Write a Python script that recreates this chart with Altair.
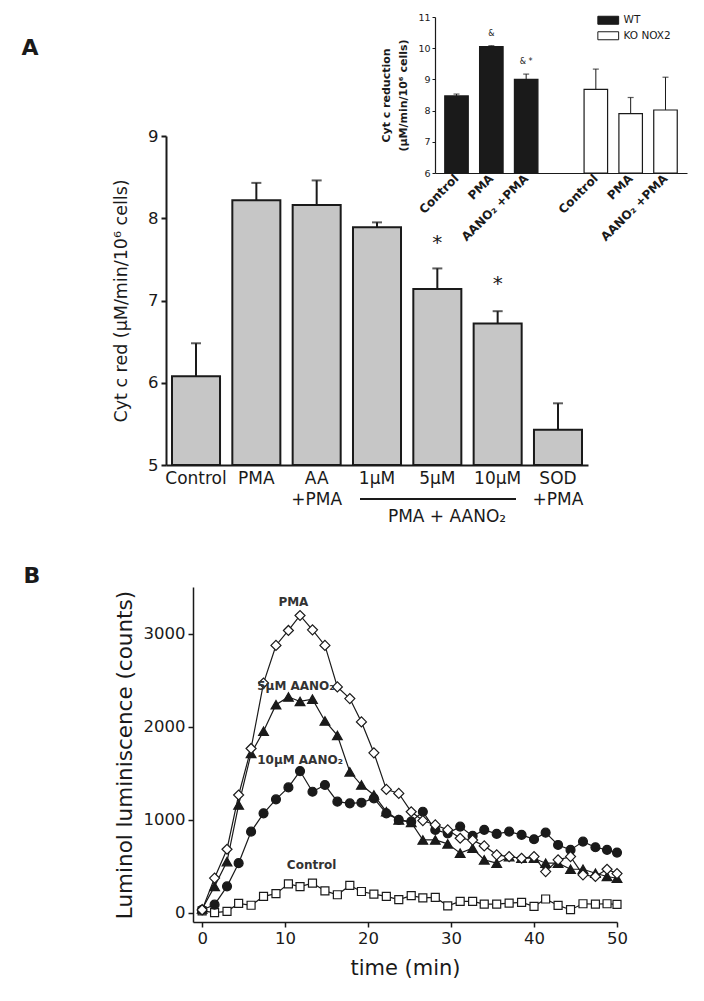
import altair as alt
import pandas as pd

FONT = "DejaVu Sans"
INK = "#1a1a1a"

# ---------------- Panel A: main bar chart ----------------
a_cats = ["Control", "PMA", "AA\n+PMA", "1µM", "5µM", "10µM", "SOD\n+PMA"]
a_mean = [6.08, 8.22, 8.16, 7.89, 7.14, 6.72, 5.43]
a_upper = [6.48, 8.43, 8.46, 7.95, 7.39, 6.87, 5.75]
a_star_cats = ["5µM", "10µM"]
a_star_y = [7.76, 7.26]

# ---------------- Panel A: inset ----------------
in_domain = ["WT|Control", "WT|PMA", "WT|AANO₂ +PMA", "|",
             "KO|Control", "KO|PMA", "KO|AANO₂ +PMA"]
in_keys = ["WT|Control", "WT|PMA", "WT|AANO₂ +PMA",
           "KO|Control", "KO|PMA", "KO|AANO₂ +PMA"]
in_geno = ["WT", "WT", "WT", "KO NOX2", "KO NOX2", "KO NOX2"]
in_mean = [8.47, 10.05, 9.00, 8.68, 7.90, 8.02]
in_upper = [8.53, 10.08, 9.17, 9.33, 8.42, 9.07]
in_note_keys = ["WT|PMA", "WT|AANO₂ +PMA"]
in_note_text = ["&", "& *"]
in_note_y = [10.45, 9.55]

# ---------------- Panel B: luminol time course ----------------
times = [0, 1.5, 3.0, 4.4, 5.9, 7.4, 8.9, 10.4, 11.8, 13.3, 14.8, 16.3, 17.8,
         19.2, 20.7, 22.2, 23.7, 25.2, 26.6, 28.1, 29.6, 31.1, 32.6, 34.0,
         35.5, 37.0, 38.5, 40.0, 41.4, 42.9, 44.4, 45.9, 47.4, 48.8, 50.0]
pma = [30, 372, 682, 1265, 1765, 2468, 2872, 3033, 3194, 3040, 2872, 2426, 2301,
       2050, 1718, 1325, 1282, 1085, 990, 943, 890, 800, 780, 718,
       622, 603, 585, 603, 442, 568, 603, 407, 389, 467, 420]
aano5 = [40, 283, 549, 1158, 1711, 1950, 2235, 2318, 2270, 2295, 2060, 1905, 1514,
         1372, 1265, 1085, 997, 970, 782, 782, 740, 640, 692, 568,
         532, 603, 585, 585, 532, 532, 467, 467, 424, 389, 370]
aano10 = [30, 86, 283, 532, 871, 1068, 1218, 1346, 1522, 1300, 1372, 1193, 1175,
          1182, 1229, 1068, 997, 978, 1085, 890, 853, 925, 825, 890,
          847, 871, 836, 789, 860, 728, 675, 764, 703, 675, 646]
control = [20, 0, 15, 100, 80, 175, 205, 310, 280, 318, 235, 193, 293,
           228, 200, 175, 140, 183, 160, 164, 74, 121, 121, 92,
           92, 103, 110, 68, 147, 78, 32, 96, 92, 96, 90]
b_series = ["PMA", "5µM AANO₂", "10µM AANO₂", "Control"]
b_label_t = [11.0, 11.3, 11.8, 13.2]
b_label_v = [3340, 2433, 1640, 514]

# ---------------- data frames ----------------
dfA = pd.DataFrame({"cat": a_cats, "val": a_mean, "upper": a_upper})
dfStar = pd.DataFrame({"cat": a_star_cats, "val": a_star_y})
dfIn = pd.DataFrame({"key": in_keys, "geno": in_geno, "m": in_mean, "up": in_upper})
dfNote = pd.DataFrame({"key": in_note_keys, "m": in_note_y, "txt": in_note_text})
series_vals = {"PMA": pma, "5µM AANO₂": aano5, "10µM AANO₂": aano10, "Control": control}
dfB = pd.DataFrame([
    {"series": s, "t": t, "v": v}
    for s in b_series for t, v in zip(times, series_vals[s])
])
dfBL = pd.DataFrame({"label": b_series, "t": b_label_t, "v": b_label_v})
one = pd.DataFrame({"a": [0]})

# plot origin is at page (166, 12)
W, H = 524, 910


def xA(field="cat"):
    return alt.X(f"{field}:N",
                 scale=alt.Scale(domain=a_cats, range=[0, 422],
                                 paddingInner=0.204, paddingOuter=0.0995),
                 axis=alt.Axis(orient="bottom", offset=-457, title=None, ticks=False,
                               labelAngle=0, labelExpr="split(datum.label, '\\n')",
                               labelFontSize=17, labelLineHeight=21, labelPadding=5,
                               domainWidth=2))


def yA(field):
    return alt.Y(f"{field}:Q",
                 scale=alt.Scale(domain=[5, 9], range=[453, 124], nice=False, zero=False),
                 axis=alt.Axis(orient="left", offset=0, values=[5, 6, 7, 8, 9],
                               title="Cyt c red (µM/min/10⁶ cells)", titleFontSize=17.5,
                               titleFontWeight="normal", titlePadding=17,
                               labelFontSize=16.5, labelPadding=3, tickSize=5,
                               tickWidth=2, domainWidth=2, minExtent=0))


barsA = alt.Chart(dfA).mark_bar(fill="#c6c6c6", stroke=INK, strokeWidth=2).encode(
    x=xA(), y=yA("val"), y2=alt.datum(5))
errA = alt.Chart(dfA).mark_rule(color=INK, strokeWidth=2).encode(
    x=xA(), y=yA("val"), y2="upper:Q")
capA = alt.Chart(dfA).mark_tick(color=INK, thickness=2, size=10, orient="horizontal").encode(
    x=xA(), y=yA("upper"))
starA = alt.Chart(dfStar).mark_text(text="*", fontSize=20, baseline="alphabetic", dy=11,
                                    color=INK).encode(x=xA(), y=yA("val"))
groupLine = alt.Chart(one).mark_rule(color=INK, strokeWidth=2).encode(
    x=alt.value(194), x2=alt.value(350), y=alt.value(487))
groupText = alt.Chart(one).mark_text(text="PMA + AANO₂", fontSize=17, color=INK,
                                     baseline="middle").encode(
    x=alt.value(281), y=alt.value(505))
mainA = alt.layer(barsA, errA, capA, starA, groupLine, groupText)


def xI(field="key"):
    return alt.X(f"{field}:N",
                 scale=alt.Scale(domain=in_domain, range=[269, 521],
                                 paddingInner=0.325, paddingOuter=0.28),
                 axis=alt.Axis(orient="bottom", offset=-749, title=None, ticks=False,
                               labelExpr="split(datum.label, '|')[1]", labelAngle=315,
                               labelAlign="right", labelBaseline="middle",
                               labelFontSize=12, labelFontWeight="bold", labelPadding=3,
                               domainWidth=1.2))


def yI(field):
    return alt.Y(f"{field}:Q",
                 scale=alt.Scale(domain=[6, 11], range=[161, 5], nice=False, zero=False),
                 axis=alt.Axis(orient="left", offset=-269, values=[6, 7, 8, 9, 10, 11],
                               title=["Cyt c reduction", "(µM/min/10⁶ cells)"],
                               titleFontSize=11, titleFontWeight="bold", titleLineHeight=17,
                               titlePadding=9, labelFontSize=9.5, labelPadding=2,
                               tickSize=3, domainWidth=1.2, minExtent=0))


barsI = alt.Chart(dfIn).mark_bar(stroke=INK, strokeWidth=1.2).encode(
    x=xI(), y=yI("m"), y2=alt.datum(6),
    fill=alt.Fill("geno:N",
                  scale=alt.Scale(domain=["WT", "KO NOX2"], range=[INK, "white"]),
                  legend=alt.Legend(orient="none", legendX=437, legendY=3, title=None,
                                    symbolType="M-2.6,-1L2.6,-1L2.6,1L-2.6,1Z",
                                    symbolSize=64, symbolStrokeColor=INK,
                                    symbolStrokeWidth=1, labelFontSize=10.5,
                                    labelColor=INK, labelOffset=10, rowPadding=2.5,
                                    padding=0)))
errI = alt.Chart(dfIn).mark_rule(color=INK, strokeWidth=1).encode(
    x=xI(), y=yI("m"), y2="up:Q")
capI = alt.Chart(dfIn).mark_tick(color=INK, thickness=1.2, size=6, orient="horizontal").encode(
    x=xI(), y=yI("up"))
noteI = alt.Chart(dfNote).mark_text(fontSize=8, color=INK, baseline="middle").encode(
    x=xI(), y=yI("m"), text="txt:N")
inset = alt.layer(barsI, errI, capI, noteI)


def xB(field="t"):
    return alt.X(f"{field}:Q",
                 scale=alt.Scale(domain=[-1.1, 50], range=[27, 451], nice=False, zero=False),
                 axis=alt.Axis(orient="bottom", offset=0, values=[0, 10, 20, 30, 40, 50],
                               format="d", title="time (min)", titleFontSize=21,
                               titleFontWeight="normal", titlePadding=11,
                               labelFontSize=16.5, labelPadding=3, labelFlush=False,
                               tickSize=5, tickWidth=1.5, domainWidth=1.5, minExtent=0))


def yB(field="v"):
    return alt.Y(f"{field}:Q",
                 scale=alt.Scale(domain=[-100, 3500], range=[910, 575], nice=False, zero=False),
                 axis=alt.Axis(orient="left", offset=-27, values=[0, 1000, 2000, 3000],
                               format="d", title="Luminol luminiscence (counts)",
                               titleFontSize=21.5, titleFontWeight="normal", titlePadding=7,
                               labelFontSize=16.5, labelPadding=3, tickSize=5,
                               tickWidth=1.5, domainWidth=1.5, minExtent=0))


linesB = alt.Chart(dfB).mark_line(color=INK, strokeWidth=1.2).encode(
    x=xB(), y=yB(), detail="series:N")
marker_style = {
    "PMA": dict(shape="diamond", size=100, fill="white"),
    "5µM AANO₂": dict(shape="triangle-up", size=95, fill=INK),
    "10µM AANO₂": dict(shape="circle", size=80, fill=INK),
    "Control": dict(shape="square", size=64, fill="white"),
}
pointsB = [
    alt.Chart(dfB[dfB.series == s]).mark_point(
        filled=True, opacity=1, stroke=INK, strokeWidth=1.2, **marker_style[s]
    ).encode(x=xB(), y=yB())
    for s in ["Control", "10µM AANO₂", "5µM AANO₂", "PMA"]
]
labelsB = alt.Chart(dfBL).mark_text(fontSize=12, fontWeight="bold", color="#333",
                                    baseline="middle").encode(
    x=xB(), y=yB(), text="label:N")
panelB = alt.layer(linesB, *pointsB, labelsB)

letterA = alt.Chart(one).mark_text(text="A", fontSize=22, fontWeight="bold",
                                   color=INK, baseline="middle").encode(
    x=alt.value(30 - 166), y=alt.value(48 - 12))
letterB = alt.Chart(one).mark_text(text="B", fontSize=22, fontWeight="bold",
                                   color=INK, baseline="middle").encode(
    x=alt.value(32 - 166), y=alt.value(576 - 12))

chart = alt.layer(mainA, inset, panelB, letterA, letterB).resolve_scale(
    x="independent", y="independent", fill="independent"
).resolve_axis(
    x="independent", y="independent"
).properties(
    width=W, height=H,
    autosize=alt.AutoSizeParams(type="none"),
    padding={"left": 158, "top": 4, "right": 6, "bottom": 72},
    background="white",
).configure_view(stroke=None).configure_axis(
    grid=False, labelFont=FONT, titleFont=FONT, labelColor=INK, titleColor=INK,
    domainColor=INK, tickColor=INK
).configure_text(font=FONT).configure_legend(labelFont=FONT)

chart.save("out.html", embed_options={"renderer": "svg", "actions": False})
